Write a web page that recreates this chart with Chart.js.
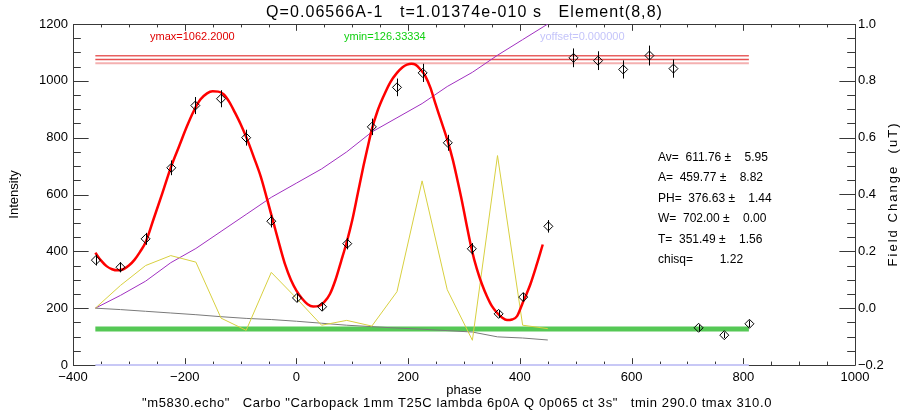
<!DOCTYPE html>
<html><head><meta charset="utf-8">
<script src="https://cdn.jsdelivr.net/npm/chart.js@4.4.0/dist/chart.umd.min.js"></script>
<style>html,body{margin:0;padding:0;background:#fff}#wrap{width:916px;height:416px;position:relative}</style>
</head><body><div id="wrap"><canvas id="c"></canvas></div>
<script>
// ---- tick labels ----
const xTicks = [-400, -200, 0, 200, 400, 600, 800, 1000];
const yTicks = [0, 200, 400, 600, 800, 1000, 1200];
const y2Ticks = [-0.2, 0.0, 0.2, 0.4, 0.6, 0.8, 1.0];

// ---- measured data points (diamonds with error bars) ----
const dataPhase = [-359, -315, -270, -224, -181, -135, -90, -45, 1, 46, 91, 135, 180, 226, 271, 314, 362, 406, 451, 496, 540, 585, 632, 675, 720, 766, 811];
const dataValue = [369, 344, 444, 694, 913, 937, 800, 506, 236, 205, 427, 838, 977, 1028, 782, 409, 180, 239, 488, 1081, 1071, 1040, 1089, 1043, 131, 105, 145];
const dataError = [19, 18, 21, 26, 30, 30, 28, 22, 15, 14, 20, 29, 31, 32, 28, 20, 13, 15, 22, 33, 33, 32, 35, 32, 11, 10, 12];

// ---- fitted curve (red) ----
const fitPhase = [-360,-350,-340,-330,-320,-310,-300,-290,-280,-270,-256,-240,-224,-210,-196,-184,-172,-160,-150,-140,-130,-120,-110,-100,-88,-76,-64,-52,-41,-30,-20,-10,0,10,20,30,40,50,60,70,80,90,100,110,120,128,135,145,156,168,180,190,198,206,213,222,231,240,248,258,270,280,288,296,304,314,323,332,341,350,359,368,377,386,395,405,412,419,430,441];
const fitValue = [395,368,348,337,333,337,350,370,398,432,512,605,700,770,840,893,934,956,963,962,952,925,888,848,793,730,664,580,500,420,352,300,262,234,214,206,208,222,250,300,365,432,510,605,700,770,829,893,946,995,1028,1048,1057,1060,1057,1040,1016,975,925,865,793,722,653,580,500,405,338,285,242,207,184,167,158,160,172,218,250,285,352,424];

// ---- auxiliary traces ----
const linePhase = [-360,-315,-270,-225,-180,-135,-90,-45,0,45,90,135,180,225,270,315,360,405,450];
const yellowValue = [200,280,350,385,362,165,122,326,235,140,157,137,258,648,265,87,737,140,128];
const grayValue = [200,195,189,183,177,170,164,160,154,147,140,135,130,126,121,116,99,95,88];
const purpleField = [0,0.045,0.095,0.16,0.21,0.27,0.33,0.39,0.44,0.49,0.55,0.62,0.67,0.72,0.78,0.83,0.89,0.945,1.0];

// ---- reference levels ----
const refExtent = [-360, 810];
const ymaxLines = [1088, 1075, 1062];
const yminLevel = 126.33334;
const yoffsetLevel = 0;

const titleText = 'Q=0.06566A-1   t=1.01374e-010 s   Element(8,8)';
const footText = '"m5830.echo"   Carbo "Carbopack 1mm T25C lambda 6p0A Q 0p065 ct 3s"   tmin 290.0 tmax 310.0';
const statLines = ['Av=  611.76 \u00b1    5.95', 'A=  459.77 \u00b1    8.82', 'PH=  376.63 \u00b1    1.44', 'W=  702.00 \u00b1    0.00', 'T=  351.49 \u00b1    1.56', 'chisq=        1.22'];

const FONT = '"Liberation Sans", Arial, Helvetica, sans-serif';
const pts = (xs, ys) => xs.map((x, i) => ({x: x, y: ys[i]}));
const hline = v => refExtent.map(x => ({x: x, y: v}));
const fmtMinus = s => s.replace('-', '\u2212');

function line(data, color, width, order, extra) {
  return Object.assign({data: data, showLine: true, borderColor: color, borderWidth: width, pointRadius: 0, order: order, yAxisID: 'y'}, extra || {});
}

const datasets = [
  {data: pts(dataPhase, dataValue), showLine: false, pointStyle: 'rectRot', pointRadius: 4.5,
   borderColor: '#000', backgroundColor: 'rgba(255,255,255,0)', pointBorderWidth: 1, order: 0, yAxisID: 'y'},
  line(pts(fitPhase, fitValue), '#ff0000', 2.5, 1, {cubicInterpolationMode: 'monotone'}),
  line(pts(linePhase, yellowValue), '#d8d040', 1, 2),
  line(pts(linePhase, grayValue), '#7a7a7a', 1, 3),
  line(pts(linePhase, purpleField), '#a030c0', 1, 4, {yAxisID: 'y2'}),
  line(hline(yminLevel), '#55c855', 5, 6),
  line(hline(ymaxLines[0]), '#e86060', 1.5, 7),
  line(hline(ymaxLines[1]), '#e85050', 1.5, 7),
  line(hline(ymaxLines[2]), '#f4b0b0', 2, 7),
  line(hline(yoffsetLevel), '#c8c8f6', 2, 8, {clip: false})
];

function spacedText(ctx, txt, x, y, size, target) {
  ctx.font = size + 'px ' + FONT;
  ctx.letterSpacing = '0px';
  const w = ctx.measureText(txt).width;
  const n = [...txt].length;
  if (target && n > 1) ctx.letterSpacing = ((target - w) / n).toFixed(3) + 'px';
  ctx.textAlign = 'left';
  ctx.textBaseline = 'middle';
  ctx.fillText(txt, x, y);
  ctx.letterSpacing = '0px';
}

const deco = {
  id: 'deco',
  beforeDatasetsDraw(chart) {
    const ctx = chart.ctx, a = chart.chartArea, sx = chart.scales.x, sy = chart.scales.y, s2 = chart.scales.y2;
    const c = v => Math.round(v) + 0.5;
    ctx.save();
    ctx.strokeStyle = '#383838';
    ctx.lineWidth = 1;
    ctx.beginPath();
    ctx.rect(c(a.left), c(a.top), Math.round(a.right) - Math.round(a.left), Math.round(a.bottom) - Math.round(a.top));
    ctx.stroke();
    const ylen = (a.right - a.left) * 0.02, xlen = (a.bottom - a.top) * 0.02;
    ctx.beginPath();
    for (let v = -400; v <= 1000; v += 50) {
      const px = c(sx.getPixelForValue(v));
      const L = (v % 200 === 0) ? xlen : xlen / 2;
      ctx.moveTo(px, a.bottom); ctx.lineTo(px, a.bottom - L);
      ctx.moveTo(px, a.top); ctx.lineTo(px, a.top + L);
    }
    for (let v = 0; v <= 1200; v += 50) {
      const py = c(sy.getPixelForValue(v));
      const L = (v % 200 === 0) ? ylen : ylen / 2;
      ctx.moveTo(a.left, py); ctx.lineTo(a.left + L, py);
    }
    for (let k = -4; k <= 20; k++) {
      const py = c(s2.getPixelForValue(k * 0.05));
      const L = (k % 4 === 0) ? ylen : ylen / 2;
      ctx.moveTo(a.right, py); ctx.lineTo(a.right - L, py);
    }
    ctx.stroke();
    ctx.restore();
  },
  afterDatasetsDraw(chart) {
    const ctx = chart.ctx, sx = chart.scales.x, sy = chart.scales.y;
    ctx.save();
    ctx.strokeStyle = '#000';
    ctx.lineWidth = 1;
    ctx.beginPath();
    dataPhase.forEach((p, i) => {
      const px = Math.round(sx.getPixelForValue(p)) + 0.5;
      ctx.moveTo(px, sy.getPixelForValue(dataValue[i] - dataError[i]));
      ctx.lineTo(px, sy.getPixelForValue(dataValue[i] + dataError[i]));
    });
    ctx.stroke();
    ctx.restore();
  },
  afterDraw(chart) {
    const ctx = chart.ctx, a = chart.chartArea;
    const cx = (a.left + a.right) / 2, cy = (a.top + a.bottom) / 2;
    ctx.save();
    ctx.fillStyle = '#000';
    spacedText(ctx, titleText, cx - 198, 13, 16, 397);
    ctx.font = '13px ' + FONT; ctx.textAlign = 'center'; ctx.textBaseline = 'middle';
    ctx.fillText('phase', cx, 390);
    spacedText(ctx, footText, 142, 403, 13, 630);
    ctx.save(); ctx.translate(14, cy); ctx.rotate(-Math.PI / 2);
    ctx.font = '13px ' + FONT; ctx.textAlign = 'center'; ctx.textBaseline = 'middle';
    ctx.fillText('Intensity', 0, 0);
    ctx.restore();
    ctx.save(); ctx.translate(893, cy); ctx.rotate(-Math.PI / 2);
    spacedText(ctx, 'Field Change  (uT)', -72, 0, 13, 145);
    ctx.restore();
    ctx.font = '11px ' + FONT; ctx.textAlign = 'left'; ctx.textBaseline = 'middle';
    ctx.fillStyle = '#e00000'; ctx.fillText('ymax=1062.2000', 150, 37);
    ctx.fillStyle = '#10d010'; ctx.fillText('ymin=126.33334', 344, 37);
    ctx.fillStyle = '#c4c4fa'; ctx.fillText('yoffset=0.000000', 540, 37);
    ctx.fillStyle = '#000';
    ctx.font = '12px ' + FONT;
    statLines.forEach((s, i) => ctx.fillText(s, 658, 157.5 + i * 20.5));
    ctx.restore();
  }
};

new Chart(document.getElementById('c'), {
  type: 'scatter',
  data: {datasets: datasets},
  options: {
    responsive: true, maintainAspectRatio: false, animation: false, events: [],
    layout: {padding: {top: 24, left: 0, right: 0, bottom: 0}},
    plugins: {legend: {display: false}, tooltip: {enabled: false}, title: {display: false}},
    scales: {
      x: {type: 'linear', position: 'bottom', min: -400, max: 1000,
          grid: {display: false, drawTicks: false}, border: {display: false},
          ticks: {color: '#000', font: {family: FONT, size: 13}, padding: 5, maxRotation: 0,
                  callback: v => fmtMinus(String(v))},
          afterBuildTicks: s => { s.ticks = xTicks.map(v => ({value: v})); },
          afterFit: s => { s.height = 51; }},
      y: {type: 'linear', position: 'left', min: 0, max: 1200,
          grid: {display: false, drawTicks: false}, border: {display: false},
          ticks: {color: '#000', font: {family: FONT, size: 13}, padding: 5,
                  callback: v => String(v)},
          afterBuildTicks: s => { s.ticks = yTicks.map(v => ({value: v})); },
          afterFit: s => { s.width = 73; }},
      y2: {type: 'linear', position: 'right', min: -0.2, max: 1.0,
          grid: {display: false, drawTicks: false}, border: {display: false},
          ticks: {color: '#000', font: {family: FONT, size: 13}, padding: 3,
                  callback: v => fmtMinus(Number(v).toFixed(1))},
          afterBuildTicks: s => { s.ticks = y2Ticks.map(v => ({value: v})); },
          afterFit: s => { s.width = 61; }}
    }
  },
  plugins: [deco]
});
</script>
</body></html>
